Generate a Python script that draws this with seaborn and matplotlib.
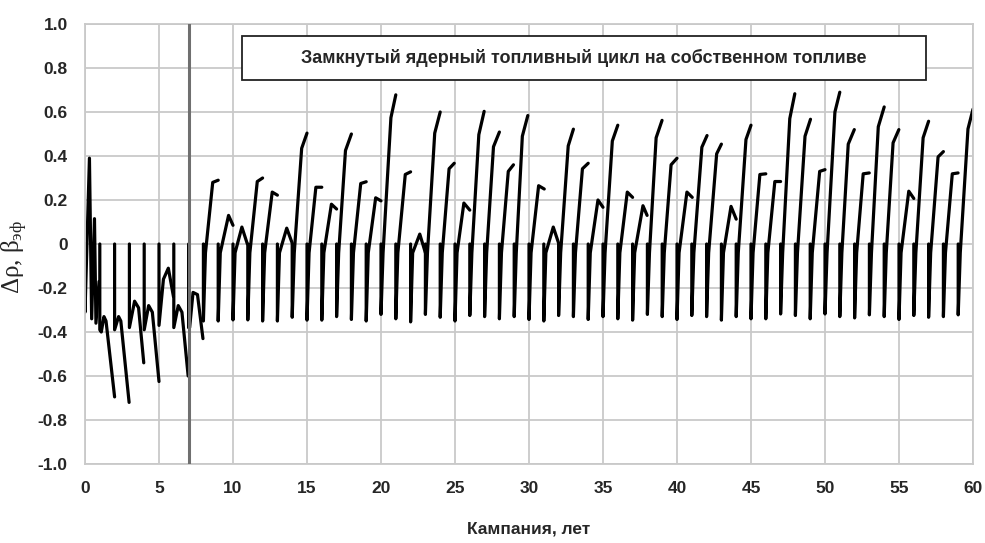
import numpy as np
import pandas as pd
import matplotlib
matplotlib.use("Agg")
import matplotlib.pyplot as plt
from matplotlib.patches import Rectangle
import seaborn as sns

# ---------------- data ----------------
# early campaigns (irregular shapes), absolute x / y
early_x = [
    [0, 0, 0.30, 0.45, 0.64, 0.74, 0.95],
    [1, 1, 1.10, 1.28, 1.42, 2.00],
    [2, 2, 2.27, 2.42, 2.98],
    [3, 3, 3.35, 3.62, 3.97],
    [4, 4, 4.30, 4.55, 5.00],
    [5, 5, 5.30, 5.63, 5.98],
    [6, 6, 6.30, 6.55, 6.97],
    [7, 7, 7.07, 7.30, 7.60, 7.97],
]
early_y = [
    [0, -0.31, 0.39, -0.34, 0.115, -0.36, -0.17],
    [0, -0.39, -0.40, -0.33, -0.35, -0.695],
    [0, -0.39, -0.33, -0.35, -0.72],
    [0, -0.38, -0.26, -0.29, -0.54],
    [0, -0.39, -0.28, -0.31, -0.625],
    [0, -0.37, -0.16, -0.11, -0.24],
    [0, -0.38, -0.28, -0.31, -0.60],
    [0, -0.38, -0.38, -0.22, -0.23, -0.43],
]

# regular campaigns from year 8 on
cycle_start = [8, 9, 10, 11, 12, 13, 14, 15, 16, 17, 18, 19, 20, 21, 22, 23, 24, 25,
               26, 27, 28, 29, 30, 31, 32, 33, 34, 35, 36, 37, 38, 39, 40, 41, 42, 43,
               44, 45, 46, 47, 48, 49, 50, 51, 52, 53, 54, 55, 56, 57, 58, 59]
bottom = [-0.35, -0.35, -0.345, -0.345, -0.35, -0.35, -0.333, -0.346, -0.346, -0.33,
          -0.343, -0.35, -0.32, -0.34, -0.354, -0.32, -0.333, -0.35, -0.325, -0.33,
          -0.34, -0.33, -0.343, -0.35, -0.325, -0.33, -0.343, -0.33, -0.34, -0.346,
          -0.32, -0.33, -0.343, -0.325, -0.33, -0.346, -0.33, -0.34, -0.34, -0.318,
          -0.325, -0.34, -0.318, -0.33, -0.336, -0.322, -0.33, -0.343, -0.325, -0.333,
          -0.33, -0.322]
knee_y = -0.04
peak_x = [8.63, 9.70, 10.60, 11.64, 12.65, 13.63, 14.64, 15.60, 16.65, 17.60, 18.63,
          19.64, 20.67, 21.64, 22.62, 23.63, 24.60, 25.60, 26.61, 27.60, 28.60, 29.55,
          30.65, 31.64, 32.65, 33.61, 34.66, 35.63, 36.64, 37.70, 38.59, 39.60, 40.67,
          41.68, 42.68, 43.65, 44.66, 45.60, 46.61, 47.62, 48.65, 49.64, 50.67, 51.57,
          52.58, 53.60, 54.60, 55.66, 56.63, 57.64, 58.60, 59.66]
peak_y = [0.28, 0.13, 0.077, 0.284, 0.236, 0.072, 0.435, 0.258, 0.181, 0.425, 0.275,
          0.21, 0.574, 0.316, 0.045, 0.504, 0.342, 0.186, 0.497, 0.442, 0.33, 0.49,
          0.265, 0.077, 0.446, 0.342, 0.20, 0.468, 0.236, 0.174, 0.483, 0.36, 0.236,
          0.44, 0.41, 0.171, 0.475, 0.316, 0.284, 0.57, 0.49, 0.33, 0.60, 0.454,
          0.319, 0.533, 0.46, 0.24, 0.483, 0.396, 0.319, 0.523]
end_x = [9.0, 10.0, 10.97, 12.0, 13.0, 14.0, 15.0, 16.0, 17.0, 18.0, 19.0, 20.0, 21.0,
         22.0, 23.0, 24.0, 24.95, 26.0, 26.97, 28.0, 28.95, 29.92, 31.03, 32.0, 33.0,
         34.0, 35.0, 36.0, 37.0, 37.98, 38.99, 40.0, 41.03, 42.03, 43.0, 44.0, 45.0,
         46.0, 47.0, 47.96, 49.02, 50.0, 51.0, 51.98, 52.99, 54.0, 54.99, 56.0, 57.0,
         58.0, 58.99, 60.0]
end_y = [0.29, 0.085, 0.0, 0.30, 0.222, 0.004, 0.504, 0.258, 0.159, 0.50, 0.283,
         0.196, 0.678, 0.328, -0.04, 0.60, 0.367, 0.154, 0.603, 0.509, 0.36, 0.584,
         0.25, 0.004, 0.522, 0.367, 0.167, 0.54, 0.212, 0.13, 0.562, 0.39, 0.212,
         0.493, 0.454, 0.113, 0.54, 0.319, 0.284, 0.683, 0.567, 0.338, 0.69, 0.52,
         0.323, 0.623, 0.52, 0.207, 0.558, 0.42, 0.323, 0.613]

marker_year = 7
title_text = "Замкнутый ядерный топливный цикл на собственном топливе"
x_label = "Кампания, лет"
y_label = r"Δρ, β$_{\mathrm{эф}}$"
x_ticks = [0, 5, 10, 15, 20, 25, 30, 35, 40, 45, 50, 55, 60]
y_ticks = [-1.0, -0.8, -0.6, -0.4, -0.2, 0, 0.2, 0.4, 0.6, 0.8, 1.0]
y_tick_labels = ["-1.0", "-0.8", "-0.6", "-0.4", "-0.2", "0", "0.2", "0.4", "0.6", "0.8", "1.0"]

# ---------------- build table ----------------
rows = []
seg = 0
for xs, ys in zip(early_x, early_y):
    for a, b in zip(xs, ys):
        rows.append((seg, a, b))
    seg += 1
KNEE_DX = 0.14
for k, b0, px, py, ex, ey in zip(cycle_start, bottom, peak_x, peak_y, end_x, end_y):
    pts = [(k, 0.0), (k, b0), (k + KNEE_DX, min(knee_y, py)), (px, py), (ex, ey)]
    for a, b in pts:
        rows.append((seg, a, b))
    seg += 1
df = pd.DataFrame(rows, columns=["seg", "x", "y"])

# ---------------- style ----------------
sns.set_theme(style="white")
plt.rcParams["font.family"] = ["Liberation Sans", "DejaVu Sans"]
plt.rcParams["mathtext.fontset"] = "custom"
plt.rcParams["mathtext.rm"] = "Liberation Serif"
plt.rcParams["mathtext.it"] = "Liberation Serif:italic"

fig = plt.figure(figsize=(9.85, 5.43), dpi=100)
ax = fig.add_axes([85 / 985, 1 - 464 / 543, 888 / 985, 440 / 543])

grid_c = "#c9c9c9"
ax.set_xlim(0, 60)
ax.set_ylim(-1.0, 1.0)
ax.set_xticks(x_ticks)
ax.set_yticks(y_ticks)
ax.set_yticklabels(y_tick_labels)
ax.grid(True, color=grid_c, lw=1.3)
ax.set_axisbelow(True)
for s in ax.spines.values():
    s.set_color(grid_c)
    s.set_linewidth(1.3)
ax.tick_params(length=0, pad=12.5, labelsize=12.5)
for lab in ax.get_xticklabels() + ax.get_yticklabels():
    lab.set_fontweight("bold")

sns.lineplot(data=df, x="x", y="y", units="seg", estimator=None, sort=False,
             color="black", lw=2.3, ax=ax, legend=False)

ax.axvline(marker_year, color="#6f6f6f", lw=2.2, zorder=5)

ax.set_xlabel(x_label, fontsize=12.5, fontweight="bold", labelpad=18)
ax.set_ylabel(y_label, fontsize=18, family="Liberation Serif")
ax.yaxis.set_label_coords(-0.062, 0.47)

# title box
bx0 = (242 - 85) / 888
bx1 = (926 - 85) / 888
by0 = (464 - 80) / 440
by1 = (464 - 36) / 440
ax.add_patch(Rectangle((bx0, by0), bx1 - bx0, by1 - by0, transform=ax.transAxes,
                       facecolor="white", edgecolor="#222222", lw=1.3, zorder=6))
ax.text((bx0 + bx1) / 2, (by0 + by1) / 2, title_text, transform=ax.transAxes,
        ha="center", va="center", fontsize=13, fontweight="bold", zorder=7)

fig.savefig("out.png", dpi=100, facecolor="white")
